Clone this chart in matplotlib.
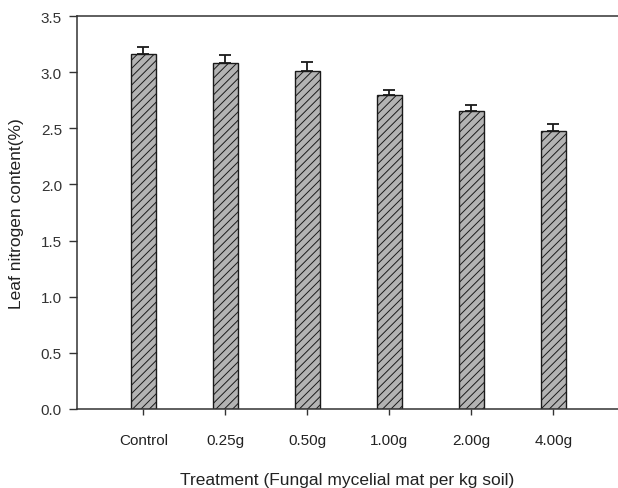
import numpy as np
import matplotlib
matplotlib.use("Agg")
from matplotlib import pyplot as plt

# Leaf N content per treatment (mean and SE)
treatments = ["Control", "0.25g", "0.50g", "1.00g", "2.00g", "4.00g"]
leaf_n = [3.16, 3.08, 3.01, 2.80, 2.65, 2.48]
leaf_n_se = [0.06, 0.075, 0.077, 0.04, 0.055, 0.055]
y_ticks = [0.0, 0.5, 1.0, 1.5, 2.0, 2.5, 3.0, 3.5]

plt.rcParams['font.family'] = ['Liberation Sans', 'DejaVu Sans']
plt.rcParams['hatch.color'] = '#333333'
plt.rcParams['hatch.linewidth'] = 0.7

fig = plt.figure(figsize=(6.18, 4.89), dpi=100)
ax = fig.add_axes([0.125, 0.1616, 0.875, 0.8036])

x = np.arange(len(treatments))
ax.bar(x, leaf_n, width=0.3, color='#b3b3b3', edgecolor='#1a1a1a',
       linewidth=1.0, hatch='////', zorder=2)
ax.errorbar(x, leaf_n, yerr=[np.zeros(len(leaf_n)), leaf_n_se], fmt='none',
            ecolor='#1a1a1a', elinewidth=1.3, capsize=4, capthick=1.3, zorder=3)

ax.set_xlim(-0.805, 5.79)
ax.set_ylim(0, 3.5)
ax.set_xticks(x)
ax.set_xticklabels(treatments)
ax.set_yticks(y_ticks)
ax.set_yticklabels(["%.1f" % v for v in y_ticks])

for side in ['left', 'bottom', 'top']:
    ax.spines[side].set_color('#333333')
    ax.spines[side].set_linewidth(1.1)
ax.spines['right'].set_visible(False)

ax.tick_params(axis='x', direction='out', length=4, width=1, colors='#333333',
               pad=13, labelsize=11, labelcolor='#222222')
ax.tick_params(axis='y', direction='out', length=6, width=1, colors='#333333',
               pad=5, labelsize=11, labelcolor='#333333')

ax.set_xlabel('Treatment (Fungal mycelial mat per kg soil)', fontsize=12.5,
              color='#222222', labelpad=18)
ax.set_ylabel('Leaf nitrogen content(%)', fontsize=12.5, color='#222222',
              labelpad=12)

fig.savefig('out.png', dpi=100)
